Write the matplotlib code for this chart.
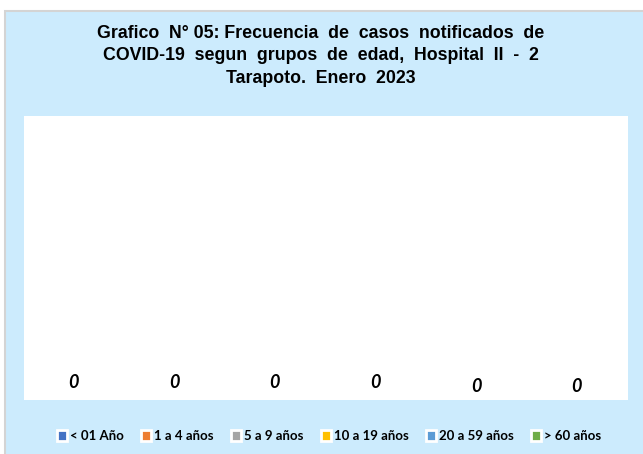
import matplotlib.pyplot as plt
from matplotlib.patches import Rectangle

# ======================
# DATA
# ======================
grupos = ["< 01 Año", "1 a 4 años", "5 a 9 años", "10 a 19 años", "20 a 59 años", "> 60 años"]
casos = [0, 0, 0, 0, 0, 0]
colores = ["#4472C4", "#ED7D31", "#A5A5A5", "#FFC000", "#5B9BD5", "#70AD47"]
# altura de la etiqueta (pixeles sobre la base)
etiqueta_dy = [18, 18, 18, 18, 13, 13]

titulo = ("Grafico  N° 05: Frecuencia  de  casos  notificados  de\n"
          "COVID-19  segun  grupos  de  edad,  Hospital  II  -  2\n"
          "Tarapoto.  Enero  2023")

W, H = 643, 454
fig = plt.figure(figsize=(W / 100, H / 100), dpi=100)
fig.patch.set_facecolor("white")

# fondo celeste con borde gris (solo arriba e izquierda visibles)
fondo = Rectangle((5 / W, -0.1), 1.2, (H - 11) / H + 0.1, transform=fig.transFigure,
                  facecolor="#CCEBFD", edgecolor="#D4D4D4", linewidth=1.5,
                  zorder=-10)
fig.patches.append(fondo)

ax = fig.add_axes([24 / W, (H - 400) / H, 604 / W, 284 / H])
ax.set_facecolor("white")

x = list(range(len(grupos)))
barras = ax.bar(x, casos, color=colores, width=0.6)

for xi, v, dy in zip(x, casos, etiqueta_dy):
    ax.annotate(str(v), (xi, v), xytext=(-1, dy), textcoords="offset pixels",
                ha="center", va="center", fontsize=13, fontweight="bold",
                fontstyle="italic", family="Lato", color="black")

ax.set_xlim(-0.5, len(grupos) - 0.5)
ax.set_ylim(0, 1)
ax.set_xticks([])
ax.set_yticks([])
for s in ax.spines.values():
    s.set_visible(False)

fig.text(321 / W, 1 - 56 / H, titulo, ha="center", va="center",
         fontsize=12.8, fontweight="bold", family="Liberation Sans",
         linespacing=1.45)

handles = [Rectangle((0, 0), 1, 1, facecolor=c, edgecolor="white", linewidth=2.0)
           for c in colores]
leg = fig.legend(handles, grupos, ncol=6, loc="center",
                 bbox_to_anchor=(329 / W, 1 - 436 / H), frameon=False,
                 handlelength=0.75, handleheight=0.85, handletextpad=0.25,
                 columnspacing=1.3,
                 prop={"family": "Lato", "weight": "bold", "size": 9.5})

fig.savefig("out.png", dpi=100)
